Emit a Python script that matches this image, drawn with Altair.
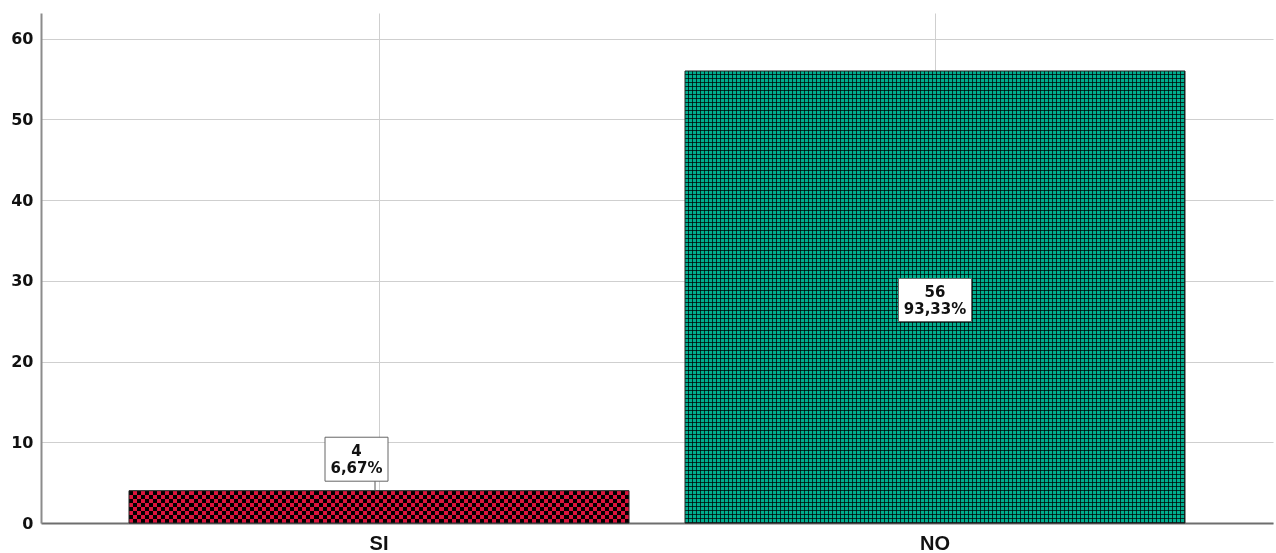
import altair as alt
import pandas as pd

# ---- data ----
categories = ["SI", "NO"]
counts = [4, 56]
total = sum(counts)
pct_labels = [f"{c / total * 100:.2f}".replace(".", ",") + "%" for c in counts]

df = pd.DataFrame({"cat": categories, "count": counts, "pct": pct_labels})
df["label"] = df["count"].astype(str) + "\n" + df["pct"]
df["mid"] = df["count"] / 2


def stripes(c1, c2, n, frac1):
    stops = []
    for i in range(n):
        a = i / n
        b = (i + frac1) / n
        c = (i + 1) / n
        stops += [
            alt.GradientStop(offset=a, color=c1),
            alt.GradientStop(offset=b, color=c1),
            alt.GradientStop(offset=b, color=c2),
            alt.GradientStop(offset=c, color=c2),
        ]
    return stops


RED = "#dc143c"
TEAL = "#00ad8e"
CLEAR = "rgba(0,0,0,0)"
DARK = "rgba(0,0,0,0.72)"

x_enc = alt.X(
    "cat:N",
    sort=categories,
    scale=alt.Scale(paddingInner=0.1, paddingOuter=0.157, round=True),
    axis=alt.Axis(
        grid=True, bandPosition=0.5, gridColor="#cfcfcf", gridWidth=1,
        domainColor="#6e6e6e", domainWidth=2, ticks=False, labelAngle=0,
        labelFont="Liberation Sans", labelFontWeight="bold", labelFontSize=20,
        labelColor="#111", labelPadding=10, title=None,
    ),
)
y_enc = alt.Y(
    "count:Q",
    scale=alt.Scale(domain=[0, 63.186], nice=False, zero=True),
    axis=alt.Axis(
        values=[0, 10, 20, 30, 40, 50, 60], grid=True, gridColor="#cfcfcf",
        gridWidth=1, domainColor="#8c8c8c", domainWidth=2, ticks=False,
        labelFont="DejaVu Sans", labelFontWeight="bold", labelFontSize=16,
        labelColor="#111", labelPadding=8, title=None,
    ),
)

base = alt.Chart(df)
si = base.transform_filter(alt.datum.cat == "SI")
no = base.transform_filter(alt.datum.cat == "NO")

# SI checkerboard: vertical stripes + horizontal stripes with difference blend
si_v = si.mark_bar(
    color=alt.LinearGradient(gradient="linear", x1=0, x2=1, y1=0, y2=0,
                             stops=stripes(RED, "#000000", 62, 0.5))
).encode(x=x_enc, y=y_enc)
si_h = si.mark_bar(
    color=alt.LinearGradient(gradient="linear", x1=0, x2=0, y1=0, y2=1,
                             stops=stripes(RED, "#000000", 4, 0.5)),
    blend="difference",
).encode(x=x_enc, y=y_enc)
si_outline = si.mark_bar(fillOpacity=0, stroke="#222", strokeWidth=1).encode(x=x_enc, y=y_enc)

# NO crosshatch: teal base + dark lattice overlays
no_base = no.mark_bar(color=TEAL).encode(x=x_enc, y=y_enc)
no_v = no.mark_bar(
    color=alt.LinearGradient(gradient="linear", x1=0, x2=1, y1=0, y2=0,
                             stops=stripes(CLEAR, DARK, 125, 0.75))
).encode(x=x_enc, y=y_enc)
no_h = no.mark_bar(
    color=alt.LinearGradient(gradient="linear", x1=0, x2=0, y1=0, y2=1,
                             stops=stripes(CLEAR, DARK, 113, 0.75))
).encode(x=x_enc, y=y_enc)
no_outline = no.mark_bar(fillOpacity=0, stroke="#222", strokeWidth=1).encode(x=x_enc, y=y_enc)

# labels
si_leader = si.mark_rule(color="#555", strokeWidth=1, xOffset=-4, y2Offset=-10).encode(
    x=x_enc, y=y_enc, y2=alt.Y2("count:Q")
)
si_box = si.mark_point(
    shape="M-1,-0.698L1,-0.698L1,0.698L-1,0.698Z", size=3969, filled=True,
    fill="white", stroke="#666", strokeWidth=1, opacity=1, xOffset=-22.5, yOffset=-31.5,
).encode(x=x_enc, y=y_enc)
si_text = si.mark_text(
    font="DejaVu Sans", fontWeight="bold", fontSize=15, lineBreak="\n", lineHeight=17,
    baseline="middle", align="center", color="#111", xOffset=-22.5, yOffset=-40,
).encode(x=x_enc, y=y_enc, text="label:N")

no_box = no.mark_point(
    shape="M-1,-0.589L1,-0.589L1,0.589L-1,0.589Z", size=5329, filled=True,
    fill="white", stroke="#666", strokeWidth=1, opacity=1, yOffset=3,
).encode(x=x_enc, y=alt.Y("mid:Q"))
no_text = no.mark_text(
    font="DejaVu Sans", fontWeight="bold", fontSize=15, lineBreak="\n", lineHeight=17,
    baseline="middle", align="center", color="#111", yOffset=-5.5,
).encode(x=x_enc, y=alt.Y("mid:Q"), text="label:N")

chart = alt.layer(
    si_v, si_h, si_outline, no_base, no_v, no_h, no_outline,
    si_leader, si_box, si_text, no_box, no_text,
).properties(
    width=1232, height=510,
    padding={"left": 41, "top": 13, "right": 3, "bottom": 30},
    autosize=alt.AutoSizeParams(type="none"),
    background="white",
).configure_view(stroke=None)

chart.save("out.html", embed_options={"renderer": "svg", "actions": False})
